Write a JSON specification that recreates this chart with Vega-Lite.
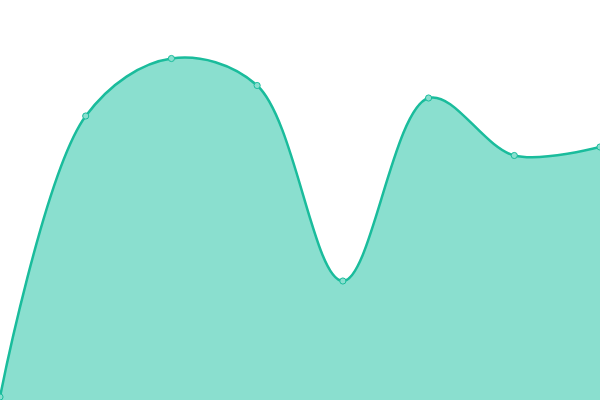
{
  "$schema": "https://vega.github.io/schema/vega-lite/v6.json",
  "width": 600,
  "height": 400,
  "padding": 0,
  "autosize": {"type": "none"},
  "config": {"view": {"stroke": null}},
  "data": {
    "values": [
      {"i": 0, "v": 3},
      {"i": 1, "v": 284},
      {"i": 2, "v": 341.5},
      {"i": 3, "v": 314.5},
      {"i": 4, "v": 119},
      {"i": 5, "v": 302},
      {"i": 6, "v": 244.5},
      {"i": 7, "v": 253}
    ]
  },
  "encoding": {
    "x": {"field": "i", "type": "quantitative", "axis": null, "scale": {"domain": [0, 7], "nice": false, "zero": false}},
    "y": {"field": "v", "type": "quantitative", "axis": null, "scale": {"domain": [0, 400], "nice": false}}
  },
  "layer": [
    {"mark": {"type": "area", "interpolate": "catmull-rom", "color": "#8adfcf", "opacity": 1}},
    {"mark": {"type": "line", "interpolate": "catmull-rom", "color": "#1abc9c", "strokeWidth": 2.5}},
    {"mark": {"type": "point", "filled": true, "fill": "#8adfcf", "stroke": "#1abc9c", "strokeWidth": 1, "size": 38, "opacity": 1}}
  ]
}
